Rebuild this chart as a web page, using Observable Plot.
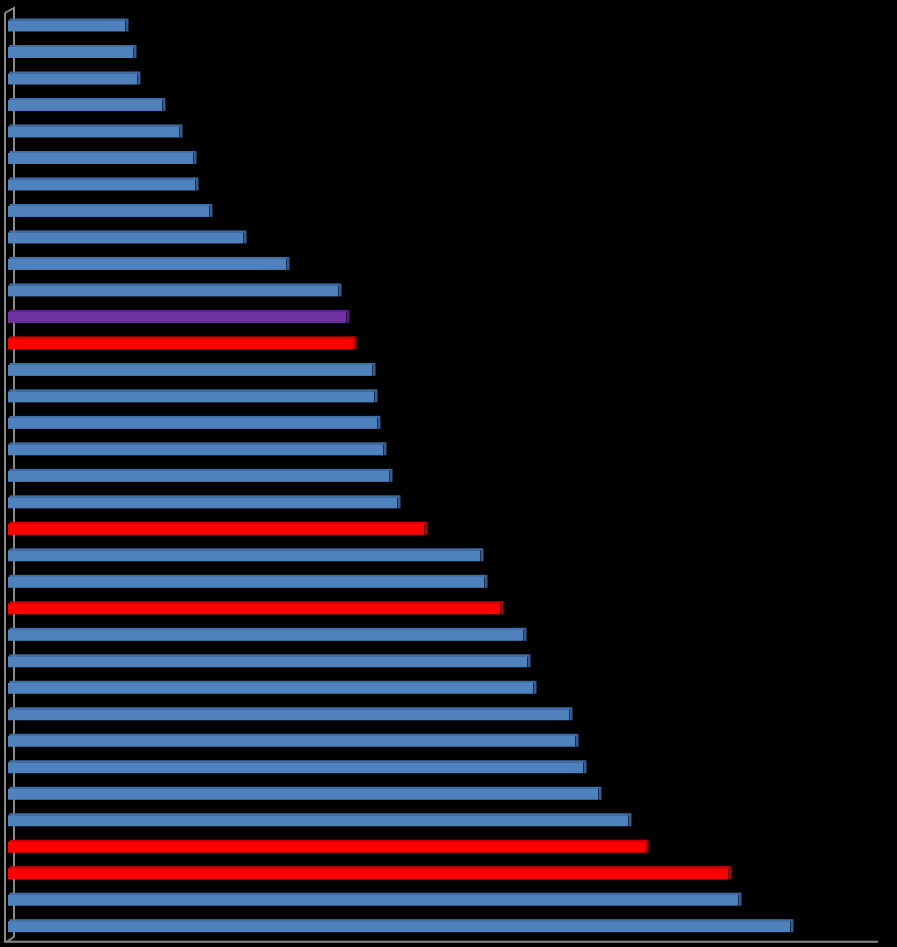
<!DOCTYPE html>
<html>
<head>
<meta charset="utf-8">
<script src="https://cdn.jsdelivr.net/npm/d3@7"></script>
<script src="https://cdn.jsdelivr.net/npm/@observablehq/plot@0.6"></script>
<style>
  html, body { margin: 0; padding: 0; background: #000; }
  #chart svg { display: block; }
</style>
</head>
<body>
<div id="chart"></div>
<script>
// Categories (no labels shown in the reference), top to bottom
const categories = ["1","2","3","4","5","6","7","8","9","10","11","12","13","14","15","16","17","18","19","20","21","22","23","24","25","26","27","28","29","30","31","32","33","34","35"];
// Bar lengths (arbitrary units)
const values = [117,125,129,154,171,185,187,201,235,278,330,338,345,364,366,369,375,381,389,416,472,476,492,515,519,525,561,567,575,590,620,637,720,730,782];
// Highlight group of each bar
const groups = ["b","b","b","b","b","b","b","b","b","b","b","p","r","b","b","b","b","b","b","r","b","b","r","b","b","b","b","b","b","b","b","r","r","b","b"];

const frontColor = {b: "#4F81BD", r: "#FF0000", p: "#7030A0"};
const topColor   = {b: "#426EA6", r: "#D40000", p: "#5F2888"};
const sideColor  = {b: "#385D8A", r: "#B00000", p: "#4E1F72"};

const data = categories.map((c, i) => ({cat: c, value: values[i], group: groups[i]}));

const W = 897, H = 947;
const mTop = 5, mBottom = 1.3, mLeft = 8, mRight = 19;
const pad = 0.51;
const step = (H - mTop - mBottom) / (categories.length + pad);
const bw = step * (1 - pad);

function wall(index, scales, values, dims) {
  const x0 = scales.x(0);
  const right = dims.width - dims.marginRight;
  const top = dims.marginTop;
  const floor = dims.height - dims.marginBottom - 4;
  const g = d3.create("svg:g")
    .attr("fill", "none")
    .attr("stroke", "#8a8a8a")
    .attr("stroke-width", 2);
  g.append("path").attr("d",
    `M${x0 - 3},${top + 8} L${x0 + 6},${top + 3} L${x0 + 6},${floor - 5} L${x0 - 1},${floor}`);
  g.append("path").attr("d",
    `M${x0 - 3},${top + 8} L${x0 - 3},${floor} L${right},${floor}`);
  return g.node();
}

const chart = Plot.plot({
  width: W,
  height: H,
  marginTop: mTop,
  marginBottom: mBottom,
  marginLeft: mLeft,
  marginRight: mRight,
  style: {background: "#000"},
  x: {domain: [0, 870], axis: null},
  y: {domain: categories, padding: pad, round: false, axis: null},
  marks: [
    wall,
    // top bevel of each 3D bar
    Plot.barX(data, {x: "value", y: "cat", fill: d => topColor[d.group], insetBottom: bw - 2.2, dx: 1.5}),
    // front face
    Plot.barX(data, {x: "value", y: "cat", fill: d => frontColor[d.group], insetTop: 2}),
    // right side cap
    Plot.tickX(data, {x: "value", y: "cat", stroke: d => sideColor[d.group], strokeWidth: 3, dx: 1.5})
  ]
});

document.getElementById("chart").appendChild(chart);
</script>
</body>
</html>
